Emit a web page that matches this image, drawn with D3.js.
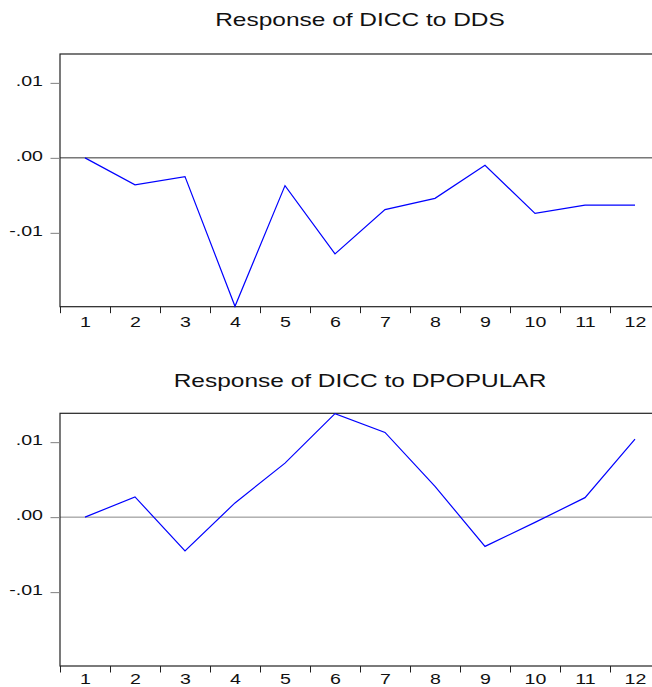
<!DOCTYPE html>
<html>
<head>
<meta charset="utf-8">
<script src="https://cdn.jsdelivr.net/npm/d3@7"></script>
<style>
  html, body { margin: 0; padding: 0; background: #fff; }
  svg { display: block; }
  text { font-family: "Liberation Sans", Arial, sans-serif; fill: #111; }
</style>
</head>
<body>
<div id="chart"></div>
<script>
// impulse responses
const periods = [1, 2, 3, 4, 5, 6, 7, 8, 9, 10, 11, 12];
const responseToDDS = [0, -0.0036, -0.0025, -0.0198, -0.0037, -0.0128, -0.0069, -0.0054, -0.0010, -0.0074, -0.0063, -0.0063];
const responseToDPOPULAR = [0, 0.0027, -0.0045, 0.0019, 0.0072, 0.0138, 0.0113, 0.0041, -0.0039, -0.0007, 0.0026, 0.0104];
const panelTitles = ["Response of DICC to DDS", "Response of DICC to DPOPULAR"];
const yTickValues = [-0.01, 0, 0.01];
const yTickLabels = ["-.01", ".00", ".01"];
const yDomain = [-0.01985, 0.01385];

const W = 652, H = 687;
const stretch = 1.4; // the text in the picture is wide

const svg = d3.select("#chart").append("svg")
    .attr("width", W)
    .attr("height", H);

// labelY: bottom panel labels nudged up so they stay inside the page
const panels = [
    { title: panelTitles[0], values: responseToDDS, top: 54, bottom: 306.7, titleY: 25.5, labelY: 20.6, zeroColor: "#333" },
    { title: panelTitles[1], values: responseToDPOPULAR, top: 413.3, bottom: 666, titleY: 386.5, labelY: 17.8, zeroColor: "#888" }
];

const x = d3.scaleLinear()
    .domain([0.5, 12.5])
    .range([60, 660]);

panels.forEach(p => {
    const y = d3.scaleLinear()
        .domain(yDomain)
        .range([p.bottom, p.top]);

    const g = svg.append("g");

    // title
    g.append("text")
        .attr("transform", `translate(${(x.range()[0] + x.range()[1]) / 2}, ${p.titleY}) scale(${stretch},1)`)
        .attr("text-anchor", "middle")
        .attr("font-size", 17.5)
        .text(p.title);

    // zero line
    g.append("line")
        .attr("x1", x.range()[0]).attr("x2", x.range()[1])
        .attr("y1", y(0)).attr("y2", y(0))
        .attr("stroke", p.zeroColor)
        .attr("stroke-width", 1);

    // frame
    g.append("rect")
        .attr("x", x.range()[0])
        .attr("y", p.top)
        .attr("width", x.range()[1] - x.range()[0])
        .attr("height", p.bottom - p.top)
        .attr("fill", "none")
        .attr("stroke", "#222")
        .attr("stroke-width", 1.2);

    // y axis
    const yAxis = d3.axisLeft(y)
        .tickValues(yTickValues)
        .tickFormat((d, i) => yTickLabels[i])
        .tickSize(9.5)
        .tickPadding(0);

    const ya = g.append("g")
        .attr("transform", `translate(${x.range()[0]},0)`)
        .call(yAxis);
    ya.select(".domain").remove();
    ya.selectAll(".tick line").attr("stroke", "#808080");
    ya.selectAll(".tick text")
        .attr("x", -17 / stretch)
        .attr("dy", "0.2em")
        .attr("transform", `scale(${stretch},1)`)
        .attr("font-size", 14)
        .attr("font-family", null)
        .attr("fill", "#111");

    // x axis: ticks between periods, labels on periods
    const xTicks = d3.axisBottom(x)
        .tickValues(d3.range(0.5, 13, 1))
        .tickFormat("")
        .tickSize(6.5);
    const xa = g.append("g")
        .attr("transform", `translate(0,${p.bottom})`)
        .call(xTicks);
    xa.select(".domain").remove();
    xa.selectAll(".tick line").attr("stroke", "#222");

    const xLabels = d3.axisBottom(x)
        .tickValues(periods)
        .tickFormat(d3.format("d"))
        .tickSize(0);
    const xl = g.append("g")
        .attr("transform", `translate(0,${p.bottom})`)
        .call(xLabels);
    xl.select(".domain").remove();
    xl.selectAll(".tick text")
        .attr("y", p.labelY)
        .attr("dy", null)
        .attr("transform", `scale(${stretch},1)`)
        .attr("font-size", 14)
        .attr("font-family", null)
        .attr("fill", "#111");

    // response line
    const line = d3.line()
        .x((d, i) => x(periods[i]))
        .y(d => y(d));

    g.append("path")
        .datum(p.values)
        .attr("fill", "none")
        .attr("stroke", "#0000ff")
        .attr("stroke-width", 1.2)
        .attr("d", line);
});
</script>
</body>
</html>
